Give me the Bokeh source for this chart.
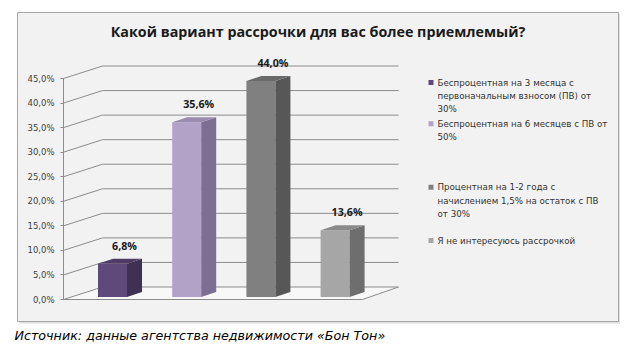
from bokeh.plotting import figure
from bokeh.models import Range1d, LinearAxis, FixedTicker, ColumnDataSource
from bokeh.core.properties import value
from bokeh.embed import file_html
from bokeh.resources import INLINE

# ---- data ----
title = "Какой вариант рассрочки для вас более приемлемый?"
source_note = "Источник: данные агентства недвижимости «Бон Тон»"
categories = [
    "Беспроцентная на 3 месяца с\nпервоначальным взносом (ПВ) от\n30%",
    "Беспроцентная на 6 месяцев с ПВ от\n50%",
    "Процентная на 1-2 года с\nначислением 1,5% на остаток с ПВ\nот 30%",
    "Я не интересуюсь рассрочкой",
]
values = [6.8, 35.6, 44.0, 13.6]
front_colors = ["#5f497a", "#b3a2c7", "#808080", "#a6a6a6"]
side_colors = ["#3f3151", "#7d6e94", "#575757", "#6e6e6e"]
top_colors = ["#4e3c66", "#9a8bb0", "#6a6a6a", "#8a8a8a"]
y_ticks = [0, 5, 10, 15, 20, 25, 30, 35, 40, 45]
y_tick_labels = ["0,0%", "5,0%", "10,0%", "15,0%", "20,0%", "25,0%", "30,0%", "35,0%", "40,0%", "45,0%"]

# ---- layout constants (pixels, image coordinates) ----
W, H = 620, 349
K = 4.911          # px per percent
Y0 = 299           # image y of 0%
def px2v(py):      # image y -> data value
    return (Y0 - py) / K

p = figure(width=W, height=H, output_backend="svg", toolbar_location=None,
           x_range=Range1d(0, W), y_range=Range1d(px2v(H), px2v(0)),
           x_axis_type=None, y_axis_type=None, min_border=0,
           outline_line_color=None, background_fill_color="white",
           border_fill_color="white")
p.grid.visible = False

# chart frame with shadow
p.quad(left=[19], right=[620], top=[px2v(14)], bottom=[px2v(323)],
       fill_color="#dedede", line_color=None)
p.quad(left=[17], right=[618], top=[px2v(12)], bottom=[px2v(321)],
       fill_color="#f2f2f2", line_color="#a6a6a6", line_width=1)

# 3D walls
AX = 63
DX, DY = 39, 12.5 / K
RX = 398
FLOOR_R = 362
p.patch([AX, FLOOR_R, RX, AX + DX], [0, 0, DY, DY], fill_color="#f8f8f8", line_color=None)
xs, ys = [], []
for t in y_ticks:
    xs.append([AX, AX + DX, RX]); ys.append([t, t + DY, t + DY])
p.multi_line(xs, ys, line_color="#8c8c8c", line_width=1)
p.line([AX, FLOOR_R, RX], [0, 0, DY], line_color="#8c8c8c", line_width=1)

# y axis
ax = LinearAxis(fixed_location=AX, ticker=FixedTicker(ticks=y_ticks), bounds=(0, 45),
                major_label_overrides={t: l for t, l in zip(y_ticks, y_tick_labels)},
                axis_line_color="#8c8c8c", major_tick_line_color="#8c8c8c",
                major_tick_out=3, major_tick_in=0, minor_tick_out=0, minor_tick_in=0,
                major_label_standoff=6,
                major_label_text_font="DejaVu Sans", major_label_text_font_size="8.5px",
                major_label_text_color="#404040")
p.add_layout(ax, "left")

# 3D bars
X0, STEP, BW = 112, 74.2, 29
BDX, BDY = 15, 5 / K
B0 = 0.5
for i, v in enumerate(values):
    c = X0 + STEP * i
    L, R = c - BW / 2, c + BW / 2
    top = B0 + v
    p.patch([L, R, R, L], [B0, B0, top, top], fill_color=front_colors[i], line_color=None)
    p.patch([R, R + BDX, R + BDX, R], [B0, B0 + BDY, top + BDY, top],
            fill_color=side_colors[i], line_color=None)
    p.patch([L, L + BDX, R + BDX, R], [top, top + BDY, top + BDY, top],
            fill_color=top_colors[i], line_color=None)

labels = [f"{v:.1f}%".replace(".", ",") for v in values]
lsrc = ColumnDataSource(dict(x=[X0 + STEP * i + 12 for i in range(len(values))],
                             y=[B0 + v + 18 / K for v in values], t=labels))
p.text(x="x", y="y", text="t", source=lsrc, text_align="center", text_baseline="middle",
       text_font=value("Open Sans"), text_font_style="bold", text_font_size="10.7px",
       text_color="#1a1a1a")

# title
p.text(x=[317.5], y=[px2v(31)], text=[title], text_align="center", text_baseline="middle",
       text_font=value("Open Sans"), text_font_style="bold", text_font_size="14.3px",
       text_color="#1a1a1a")

# legend
leg_y = [82, 123.3, 186.7, 240]
LH = 13.3
for i, cat in enumerate(categories):
    p.rect(x=[430.5], y=[px2v(leg_y[i])], width=5, height=5 / K,
           fill_color=front_colors[i], line_color=None)
    lines = cat.split("\n")
    p.text(x=[437] * len(lines), y=[px2v(leg_y[i] + LH * k) for k in range(len(lines))],
           text=lines, text_align="left", text_baseline="middle",
           text_font=value("DejaVu Sans"), text_font_size="8.7px", text_color="#333333")

# source note
p.text(x=[14], y=[px2v(335)], text=[source_note], text_align="left", text_baseline="middle",
       text_font=value("DejaVu Sans"), text_font_style="italic", text_font_size="12.7px",
       text_color="#000000")

open("out.html", "w").write(file_html(p, INLINE))
